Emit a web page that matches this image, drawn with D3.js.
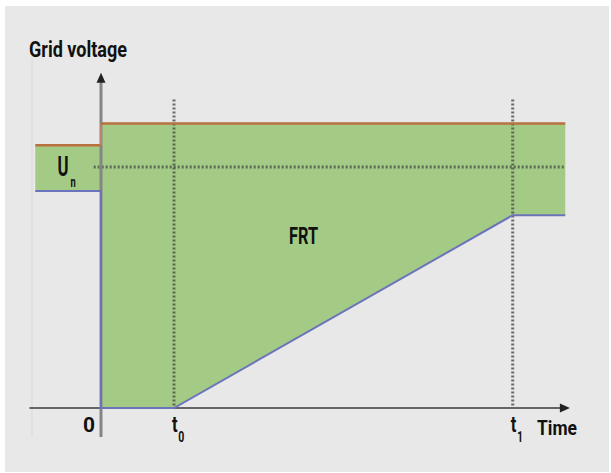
<!DOCTYPE html>
<html><head><meta charset="utf-8">
<script src="https://cdn.jsdelivr.net/npm/d3@7"></script>
<style>
html,body{margin:0;padding:0;background:#fff;}
text{font-family:Roboto,"Noto Sans",sans-serif;font-weight:700;fill:#111;}
</style></head>
<body><svg id="c" width="611" height="473"></svg>
<script>
// time in units of t0; voltage in per-unit of Un
const timePoints = [-0.9, 0, 1, 5.64, 6.36];
const upperLimit = [1.09, 1.18, 1.18, 1.18, 1.18];
const lowerLimit = [0.90, 0, 0, 0.80, 0.80];
const tickTimes = [0, 1, 5.64];
const tickLabels = [["0",""],["t","0"],["t","1"]];
const unLevel = 1.0;

const svg = d3.select("#c");
const x = d3.scaleLinear().domain([0, 1]).range([101, 174]);
const y = d3.scaleLinear().domain([0, 1]).range([408, 167]);

svg.append("rect").attr("x",5).attr("y",6).attr("width",604).attr("height",466).attr("fill","#e8e8e8");
svg.append("line").attr("x1",32).attr("x2",32).attr("y1",58).attr("y2",437).attr("stroke","#dadada").attr("stroke-width",1);

const area = d3.area().x(d=>x(d.t)).y0(d=>y(d.l)).y1(d=>y(d.u));
const pre = [{t:timePoints[0],u:upperLimit[0],l:lowerLimit[0]},{t:0,u:upperLimit[0],l:lowerLimit[0]}];
svg.append("path").datum(pre).attr("d",area).attr("fill","#a3cb85");
const post = timePoints.slice(1).map((t,i)=>({t, u:upperLimit[i+1], l:lowerLimit[i+1]}));
svg.append("path").datum(post).attr("d",area).attr("fill","#a3cb85");

// dotted guide lines
function dl(x1,y1,x2,y2){svg.append("line").attr("x1",x1).attr("y1",y1).attr("x2",x2).attr("y2",y2)
  .attr("stroke","#505a4d").attr("stroke-width",3).attr("stroke-dasharray","2,2").attr("opacity",0.85);}
dl(x(-0.1), y(unLevel), x(timePoints[4]), y(unLevel));
dl(x(tickTimes[1]), y(1.28), x(tickTimes[1]), y(0));
dl(x(tickTimes[2]), y(1.28), x(tickTimes[2]), y(0));

// axes
svg.append("line").attr("x1",x(-0.98)).attr("x2",x(6.3)).attr("y1",y(0)).attr("y2",y(0)).attr("stroke","#656565").attr("stroke-width",2);
svg.append("path").attr("d",`M${x(6.3)-1},${y(0)-4.5}L${x(6.3)+9},${y(0)}L${x(6.3)-1},${y(0)+4.5}Z`).attr("fill","#222");
svg.append("line").attr("x1",x(0)).attr("x2",x(0)).attr("y1",y(1.37)).attr("y2",y(-0.12)).attr("stroke","#858585").attr("stroke-width",3);
svg.append("path").attr("d",`M${x(0)-4.5},${y(1.35)}L${x(0)},${y(1.35)-10}L${x(0)+4.5},${y(1.35)}Z`).attr("fill","#222");

// boundary lines
const lineGen = d3.line().x(d=>x(d[0])).y(d=>y(d[1]));
const upPre = [[timePoints[0],upperLimit[0]],[0,upperLimit[0]]];
const upPost = timePoints.slice(1).map((t,i)=>[t,upperLimit[i+1]]);
svg.append("path").datum(upPre).attr("d",lineGen).attr("fill","none").attr("stroke","#b8703e").attr("stroke-width",2.5);
svg.append("path").datum([[0,upperLimit[0]],[0,upperLimit[1]]]).attr("d",lineGen).attr("fill","none").attr("stroke","#d08060").attr("stroke-width",1.5);
svg.append("path").datum(upPost).attr("d",lineGen).attr("fill","none").attr("stroke","#b8703e").attr("stroke-width",2.5);
const loPts = timePoints.map((t,i)=>[t,lowerLimit[i]]);
loPts.splice(1,0,[0,lowerLimit[0]]);
svg.append("path").datum(loPts).attr("d",lineGen).attr("fill","none").attr("stroke","#6b74bb").attr("stroke-width",2);

// texts
function txt(s, px, py, size, len){
  const t = svg.append("text").attr("x",px).attr("y",py).attr("font-size",size).text(s);
  if(len) t.attr("textLength",len).attr("lengthAdjust","spacingAndGlyphs");
  return t;
}
function sub(main, s, px, py, size, subSize, sx, dx, dy){
  const t = svg.append("text").attr("transform",`translate(${px},${py}) scale(${sx},1)`).attr("font-size",size);
  t.append("tspan").text(main);
  t.append("tspan").attr("font-size",subSize).attr("dx",dx).attr("dy",dy).text(s);
  return t;
}
txt("Grid voltage", 29, 57, 22, 98);
sub("U", "n", 57.5, 176, 27, 15, 0.62, 3, 11);
txt("FRT", 289, 244, 23.5, 29);
txt("Time", 537, 435, 21, 40);
tickTimes.forEach((t,i)=>{
  const lab = tickLabels[i];
  if(lab[1]===""){ txt(lab[0], x(t)-18, 432, 21, 12); }
  else { sub(lab[0], lab[1], x(t)-2, 432, 22, 14, 0.75, 1, 10); }
});
</script></body></html>
